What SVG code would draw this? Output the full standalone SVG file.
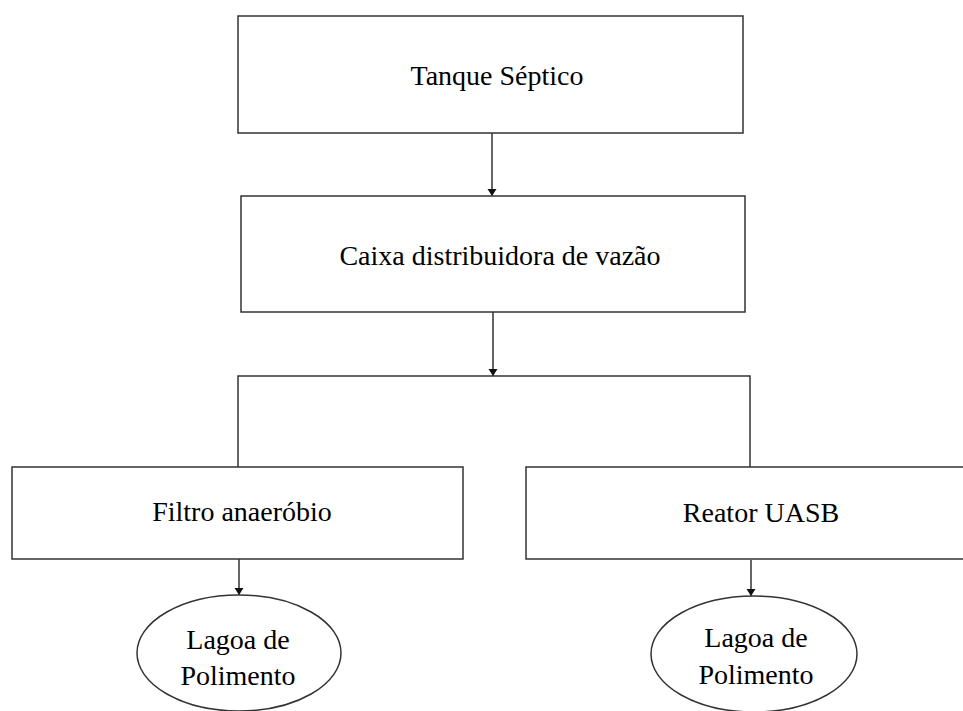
<svg xmlns="http://www.w3.org/2000/svg" width="963" height="711" viewBox="0 0 963 711">
<defs>
<style>
.box{fill:#fff;stroke:#333;stroke-width:1.5}
.ln{fill:none;stroke:#333;stroke-width:1.5}
.ar{fill:none;stroke:#333;stroke-width:1.5;marker-end:url(#ah)}
.t{font-family:"Liberation Serif","Times New Roman",serif;font-size:28px;fill:#000;text-anchor:middle}
</style>
<marker id="ah" viewBox="0 0 9 7" refX="4.5" refY="7" markerWidth="9" markerHeight="7" markerUnits="userSpaceOnUse" orient="auto">
<path d="M0,0 L9,0 L4.5,7 Z" fill="#111" transform="rotate(-90 4.5 3.5) translate(1 -1)"/>
</marker>
</defs>
<rect width="963" height="711" fill="#fff"/>
<g id="connectors">
<line class="ln" x1="492" y1="133" x2="492" y2="196"/>
<path d="M487.5,189 L496.5,189 L492,196 Z" fill="#111"/>
<line class="ln" x1="493" y1="312" x2="493" y2="376"/>
<path d="M488.5,369 L497.5,369 L493,376 Z" fill="#111"/>
<path class="ln" d="M238,467 L238,376 L750,376 L750,467"/>
<line class="ln" x1="239" y1="559" x2="239" y2="595"/>
<path d="M234.5,588 L243.5,588 L239,595 Z" fill="#111"/>
<line class="ln" x1="751" y1="560" x2="751" y2="596"/>
<path d="M746.5,589 L755.5,589 L751,596 Z" fill="#111"/>
</g>
<g id="tanque">
<rect class="box" x="238" y="16" width="505" height="117"/>
<text class="t" x="497" y="85">Tanque Séptico</text>
</g>
<g id="caixa">
<rect class="box" x="241" y="196" width="504" height="116"/>
<text class="t" x="500" y="265">Caixa distribuidora de vazão</text>
</g>
<g id="filtro">
<rect class="box" x="12" y="467" width="451" height="92"/>
<text class="t" x="242" y="521">Filtro anaeróbio</text>
</g>
<g id="reator">
<rect class="box" x="526" y="467" width="450" height="92"/>
<text class="t" x="761" y="522">Reator UASB</text>
</g>
<g id="lagoa1">
<ellipse class="box" cx="239" cy="653" rx="102" ry="58"/>
<text class="t" x="238" y="649">Lagoa de</text>
<text class="t" x="238" y="685">Polimento</text>
</g>
<g id="lagoa2">
<ellipse class="box" cx="754" cy="654" rx="103" ry="58"/>
<text class="t" x="756" y="647">Lagoa de</text>
<text class="t" x="756" y="684">Polimento</text>
</g>
</svg>
